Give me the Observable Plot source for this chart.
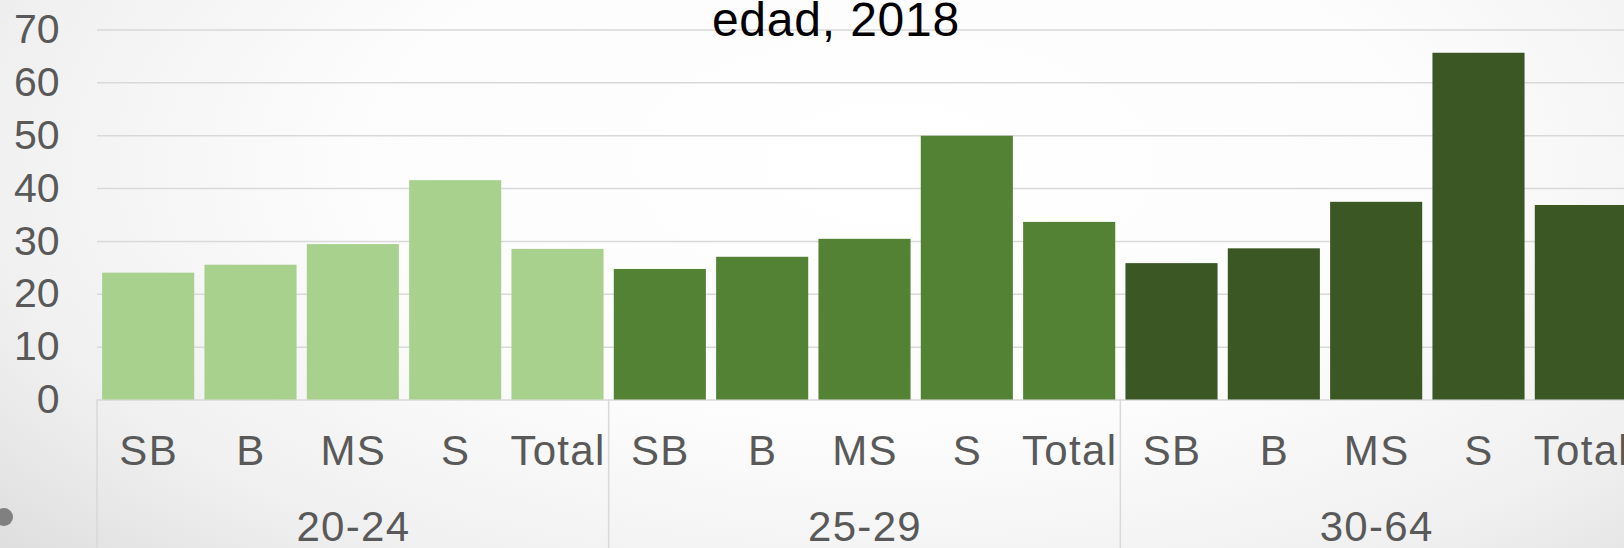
<!DOCTYPE html>
<html>
<head>
<meta charset="utf-8">
<script src="https://cdn.jsdelivr.net/npm/d3@7"></script>
<script src="https://cdn.jsdelivr.net/npm/@observablehq/plot@0.6"></script>
<style>
  html, body { margin: 0; padding: 0; overflow: hidden; }
  #wrap {
    position: relative; width: 1624px; height: 548px; overflow: hidden;
    background: radial-gradient(ellipse 75% 110% at 55% 30%, #ffffff 0%, #fcfcfc 45%, #f0f0f0 75%, #dcdcdc 100%);
    font-family: "Liberation Sans", Arial, sans-serif;
  }
  #title {
    position: absolute; left: 0; top: -4px; width: 1672px; text-align: center;
    font-size: 48px; line-height: 48px; letter-spacing: 0.8px; color: #000;
  }
  #bullet {
    position: absolute; left: -5px; top: 508px; width: 18px; height: 18px;
    border-radius: 50%; background: #808080;
  }
  #chart { position: absolute; left: 0; top: 0; width: 1632px; }
  #chart svg { max-width: none !important; }
  #chart svg g[aria-label="x-axis tick label"] text { letter-spacing: 1.3px; }
</style>
</head>
<body>
<div id="wrap">
  <div id="chart"></div>
  <div id="title">edad, 2018</div>
  <div id="bullet"></div>
</div>
<script>
const groups = ["20-24", "25-29", "30-64"];
const categories = ["SB", "B", "MS", "S", "Total"];
const values2024 = [24.0, 25.5, 29.4, 41.5, 28.5];
const values2529 = [24.7, 27.0, 30.4, 49.9, 33.6];
const values3064 = [25.8, 28.6, 37.4, 65.6, 36.8];
const groupColors = ["#a9d18e", "#548235", "#3a5724"];
const yTicks = [0, 10, 20, 30, 40, 50, 60, 70];

const seriesValues = [values2024, values2529, values3064];
const data = [];
groups.forEach((g, gi) => {
  categories.forEach((c, ci) => {
    data.push({group: g, category: c, key: g + "|" + c, value: seriesValues[gi][ci]});
  });
});
const keys = data.map(d => d.key);

const separators = (index, scales, values, dimensions) => {
  const x = scales.x, y = scales.y;
  const step = x(keys[1]) - x(keys[0]);
  const gapHalf = 0.05 * step;
  const g = d3.create("svg:g");
  const y0 = y(0);
  const ends = groups.map(gr => x(gr + "|SB") - gapHalf);
  ends.push(x(groups[groups.length - 1] + "|Total") + x.bandwidth() + gapHalf);
  for (const xv of ends) {
    g.append("line")
      .attr("x1", xv).attr("x2", xv)
      .attr("y1", y0).attr("y2", dimensions.height)
      .attr("stroke", "#d9d9d9").attr("stroke-width", 1.5);
  }
  return g.node();
};

const chart = Plot.plot({
  width: 1632,
  height: 548,
  marginLeft: 97,
  marginRight: 0,
  marginTop: 29.5,
  marginBottom: 148.5,
  style: {background: "transparent", fontFamily: "'Liberation Sans', Arial, sans-serif", color: "#595959", overflow: "visible", maxWidth: "none"},
  x: {domain: keys, paddingInner: 0.1, paddingOuter: 0.05, round: false, label: null},
  y: {domain: [0, 70], label: null},
  color: {domain: groups, range: groupColors},
  marks: [
    Plot.ruleY(yTicks, {stroke: "#d9d9d9", strokeWidth: 1.5}),
    Plot.barY(data, {x: "key", y: "value", fill: "group"}),
    separators,
    Plot.axisY({ticks: yTicks, tickSize: 0, tickPadding: 38, fontSize: 41, fill: "#595959", label: null}),
    Plot.axisX({tickSize: 0, tickPadding: 35, fontSize: 42, fill: "#595959", tickFormat: d => d.split("|")[1], label: null}),
    Plot.axisX({ticks: groups.map(g => g + "|MS"), tickSize: 0, tickPadding: 111, fontSize: 42, fill: "#595959", tickFormat: d => d.split("|")[0], label: null})
  ]
});
document.getElementById("chart").appendChild(chart);
</script>
</body>
</html>
